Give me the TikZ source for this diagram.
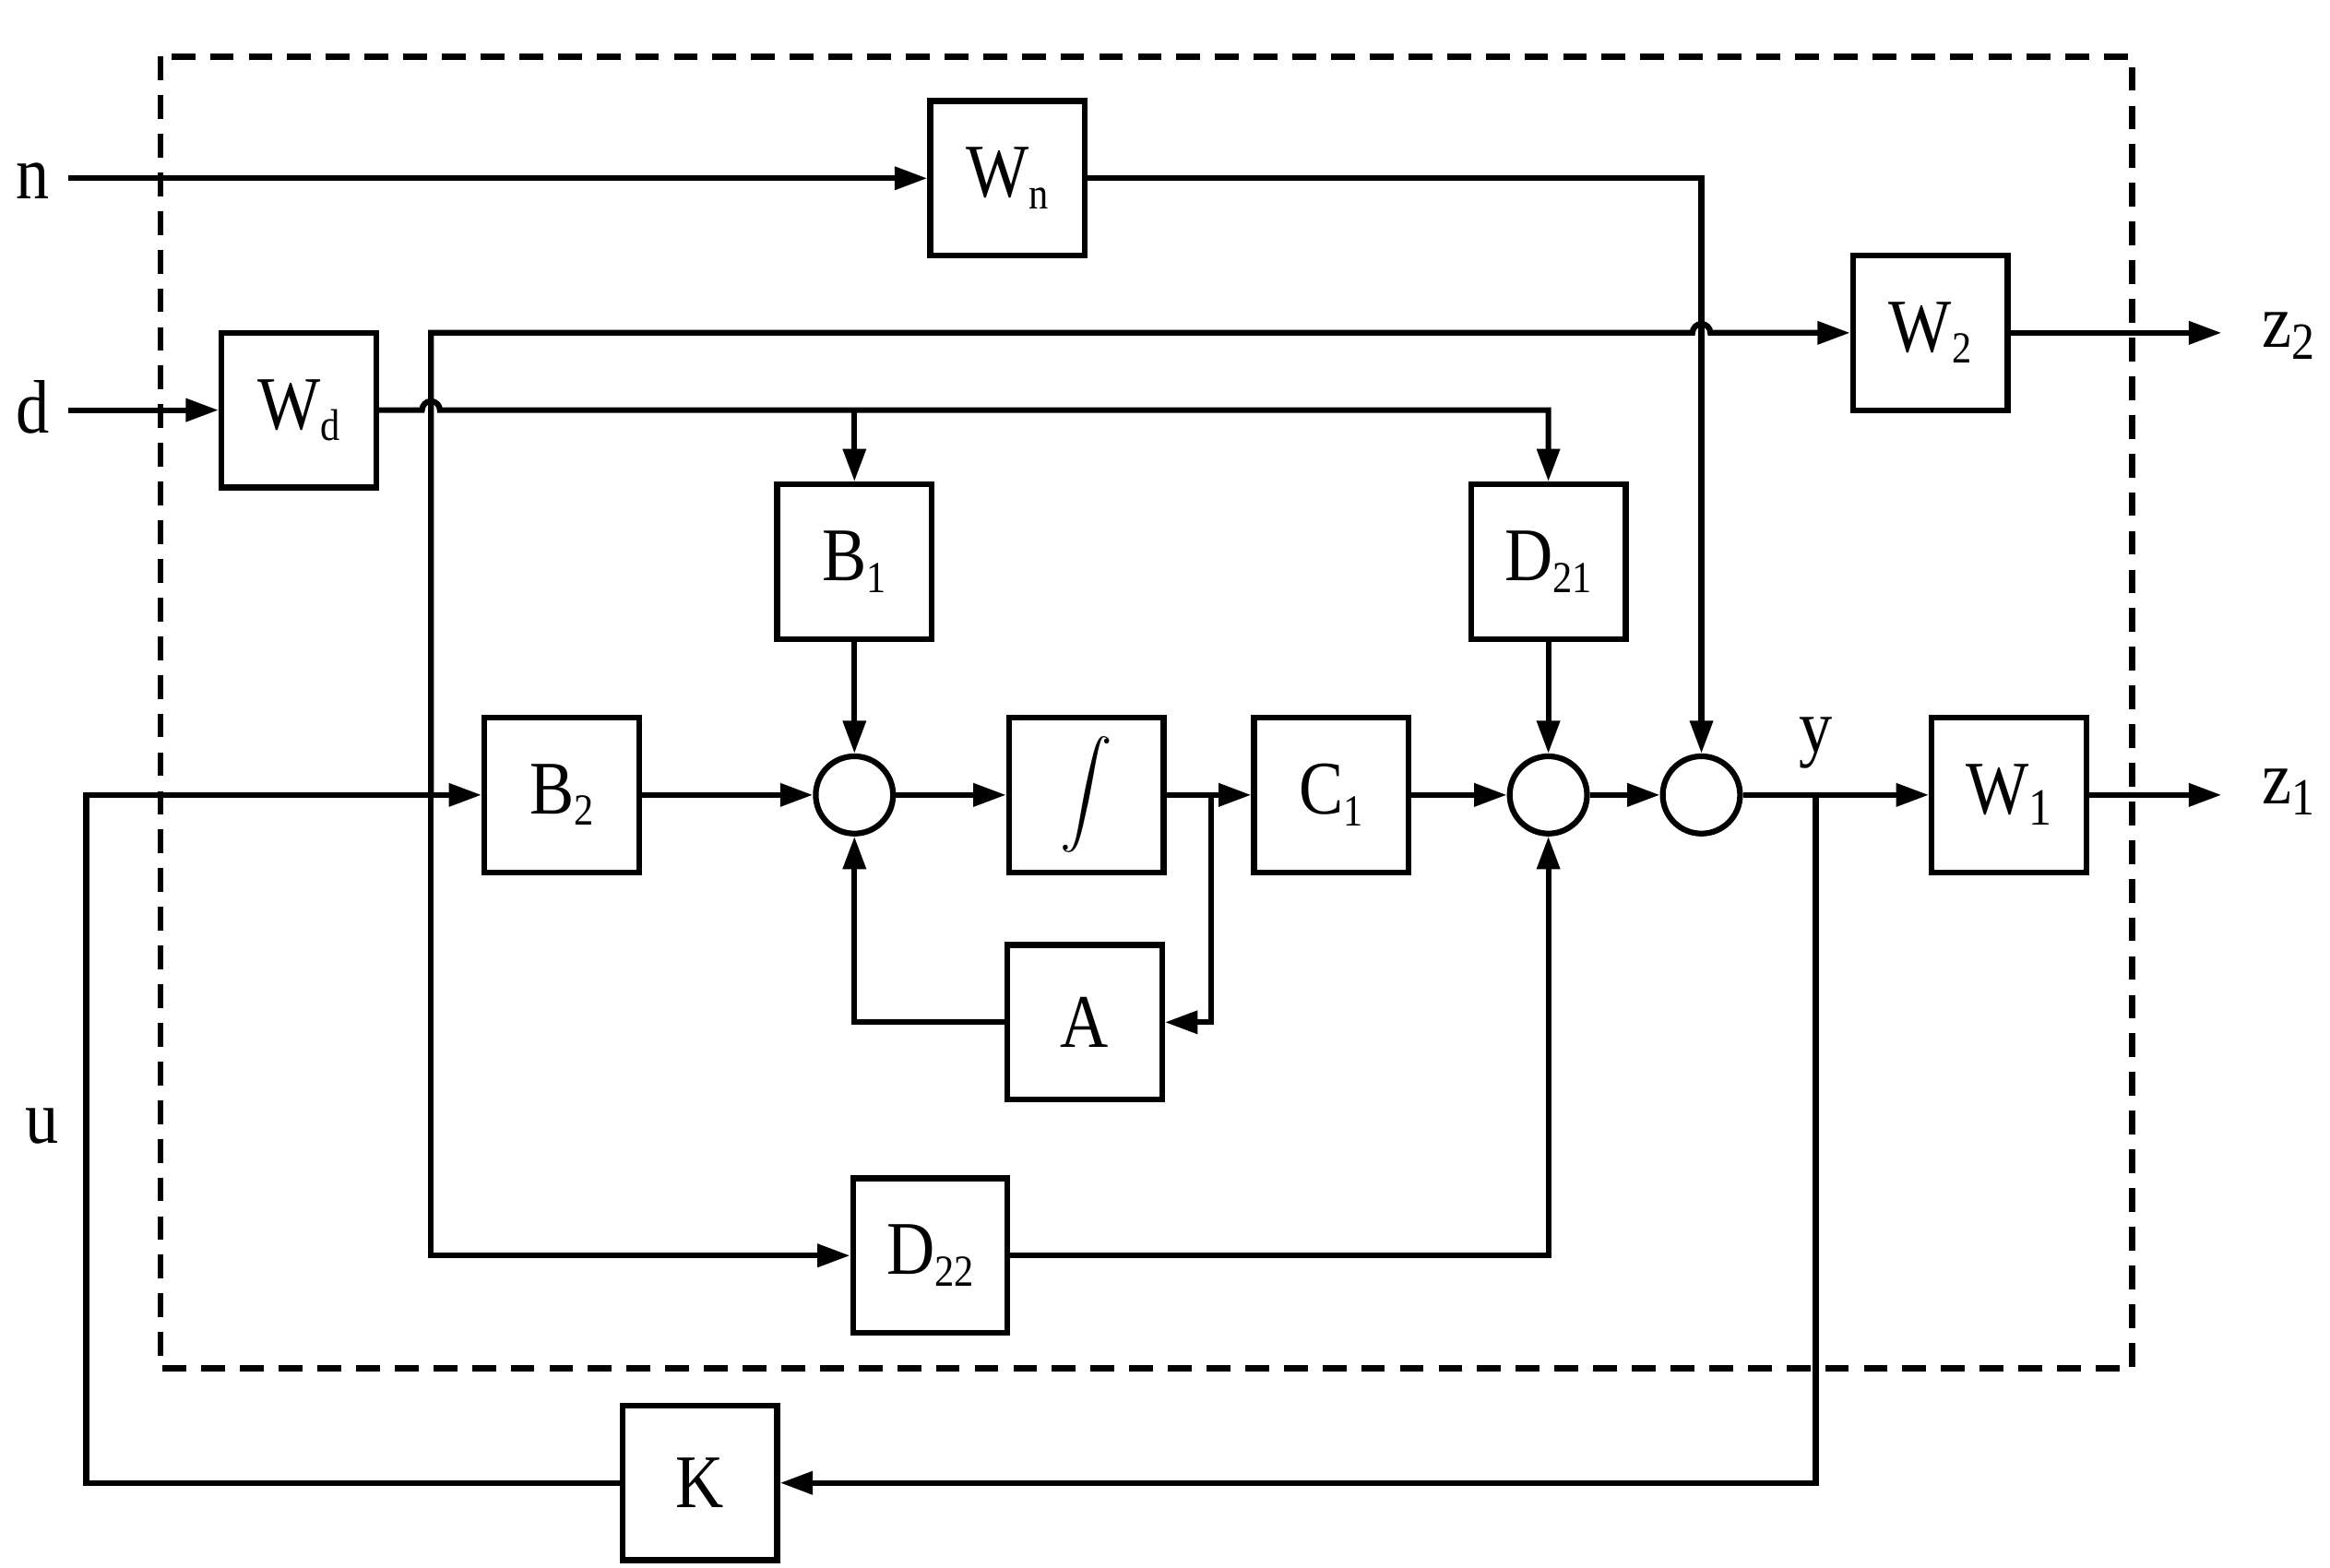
\documentclass[tikz,border=0pt]{standalone}
\usepackage{fontspec}
\setmainfont{Liberation Serif}[FakeStretch=0.88]
\usetikzlibrary{arrows.meta}
\newcommand\subs[2][8.5]{\raisebox{-2.2pt}{\fontsize{#1}{#1}\selectfont #2}}
\begin{document}
\begin{tikzpicture}[x=0.01cm,y=-0.01cm,
  every node/.style={font=\fontsize{14.5}{14.5}\selectfont},
  blk/.style={draw,line width=1.1pt,minimum width=1.04cm,minimum height=1.04cm,inner sep=0pt},
  sumc/.style={draw,line width=1.1pt,circle,minimum size=0.52cm,inner sep=0pt},
  sig/.style={line width=1.1pt,-{Triangle[length=0.22cm,width=0.15cm]}},
  lbl/.style={inner sep=0pt}]
\useasboundingbox (0,0) rectangle (1568,1055);
\draw[line width=1.2pt,dash pattern=on 0.16cm off 0.1cm] (108,38) rectangle (1435,921);

% blocks
\node[blk] (Wn) at (678,120) {W\subs{n}};
\node[blk] (Wd) at (201,276) {W\subs{d}};
\node[blk] (W2) at (1299,224) {W\subs{2}};
\node[blk] (B1) at (575,378) {B\subs{1}};
\node[blk] (D21) at (1042,378) {D\subs{21}};
\node[blk] (B2) at (378,535) {B\subs{2}};
\node[blk] (I) at (731,535) {\fontsize{9}{9}\selectfont$\displaystyle\int$};
\node[blk] (C1) at (896,535) {C\subs{1}};
\node[blk] (W1) at (1352,535) {W\subs[10]{1}};
\node[blk] (A) at (730,688) {A};
\node[blk] (D22) at (626,845) {D\subs{22}};
\node[blk] (K) at (471,998) {K};
\node[sumc] (S1) at (575,535) {};
\node[sumc] (S2) at (1042,535) {};
\node[sumc] (S3) at (1145,535) {};

% labels
\node[lbl] (ln) at (22,122) {n};
\node[lbl] (ld) at (22,274) {d};
\node[lbl] (lu) at (28,758) {u};
\node[lbl] (ly) at (1222,500) {y};
\node[lbl] (lz2) at (1540,226) {z\subs[10]{2}};
\node[lbl] (lz1) at (1540,533) {z\subs[10]{1}};

% coordinates
\coordinate (nin) at (46,120);
\coordinate (din) at (46,276);
\coordinate (z2) at (1495,224);
\coordinate (z1) at (1495,535);
\coordinate (J) at (290,535);
\coordinate (uc) at (58,535);
\coordinate (br) at (815,535);
\coordinate (yb) at (1222,535);
\coordinate (dB1) at (575,276);

% connectors
\draw[sig] (nin) -- (Wn.west);
\draw[sig] (Wn.east) -| (S3.north);
\draw[sig] (din) -- (Wd.west);
\draw[sig] (Wd.east) -- (284,276) arc[start angle=180,end angle=0,radius=0.06cm] -- (1042,276) -- (D21.north);
\draw[sig] (dB1) -- (B1.north);
\draw[sig] (J) -- (290,224) -- (1139,224) arc[start angle=180,end angle=0,radius=0.06cm] -- (W2.west);
\draw[sig] (J) |- (D22.west);
\draw[sig] (W2.east) -- (z2);
\draw[sig] (K.west) -| (uc) -- (B2.west);
\draw[sig] (B2.east) -- (S1.west);
\draw[sig] (B1.south) -- (S1.north);
\draw[sig] (S1.east) -- (I.west);
\draw[sig] (I.east) -- (C1.west);
\draw[sig] (br) |- (A.east);
\draw[sig] (A.west) -| (S1.south);
\draw[sig] (C1.east) -- (S2.west);
\draw[sig] (D21.south) -- (S2.north);
\draw[sig] (D22.east) -| (S2.south);
\draw[sig] (S2.east) -- (S3.west);
\draw[sig] (S3.east) -- (W1.west);
\draw[sig] (yb) |- (K.east);
\draw[sig] (W1.east) -- (z1);
\end{tikzpicture}
\end{document}
